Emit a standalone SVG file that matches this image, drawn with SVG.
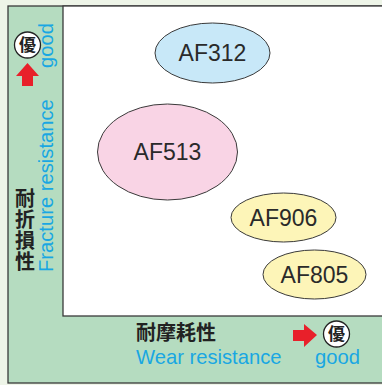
<svg xmlns="http://www.w3.org/2000/svg" width="382" height="385" viewBox="0 0 382 385">
<style>
.ell{stroke:#3a3a3a;stroke-width:1}
.lbl{font-family:"Liberation Sans",Arial,sans-serif;font-size:23px;fill:#2a2a2a;text-anchor:middle}
.en{font-family:"Liberation Sans",Arial,sans-serif;font-size:20.2px;fill:#19a7e2}
.jp{font-family:"Noto Sans CJK JP","Noto Sans CJK SC",sans-serif;font-size:20px;font-weight:bold;fill:#222}
.yu{font-family:"Noto Sans CJK JP","Noto Sans CJK SC",sans-serif;font-size:17px;font-weight:bold;fill:#222;text-anchor:middle}
.arr{fill:#e8202a}
</style>
<rect x="0" y="0" width="382" height="385" fill="#eef5e8"/>
<g id="frame">
<rect x="8" y="6" width="380" height="377" fill="#b5dcc0" stroke="#3a3a3a" stroke-width="1.3"/>
<rect x="63" y="6" width="325" height="310" fill="#ffffff" stroke="#3a3a3a" stroke-width="1.3"/>
</g>
<g id="af312">
<ellipse class="ell" cx="212.5" cy="53" rx="57.5" ry="30" fill="#c8e8f8"/>
<text class="lbl" x="212.5" y="61">AF312</text>
</g>
<g id="af513">
<ellipse class="ell" cx="167.5" cy="152" rx="70" ry="48" fill="#f9d4e5"/>
<text class="lbl" x="167.5" y="160">AF513</text>
</g>
<g id="af906">
<ellipse class="ell" cx="283.5" cy="217.5" rx="52.5" ry="24.5" fill="#fdf5b8"/>
<text class="lbl" x="283.5" y="225.5">AF906</text>
</g>
<g id="af805">
<ellipse class="ell" cx="314.5" cy="274.5" rx="51.5" ry="24.5" fill="#fdf5b8"/>
<text class="lbl" x="314.5" y="282.5">AF805</text>
</g>
<g id="y-axis">
<circle cx="27.5" cy="45" r="13" fill="#ffffff" stroke="#222" stroke-width="1.3"/>
<text class="yu" x="27.5" y="51">優</text>
<polygon class="arr" points="27.5,63 39,76 33,76 33,86 22,86 22,76 16,76"/>
<text class="en" transform="translate(53,68) rotate(-90)">good</text>
<text class="en" transform="translate(53,272) rotate(-90)">Fracture resistance</text>
<text class="jp" x="25" y="188" writing-mode="vertical-rl" letter-spacing="1">耐折損性</text>
</g>
<g id="x-axis">
<text class="jp" x="136" y="340" font-size="21">耐摩耗性</text>
<text class="en" x="136" y="364">Wear resistance</text>
<polygon class="arr" points="317,335 304,324 304,330 293,330 293,341 304,341 304,347"/>
<circle cx="336.5" cy="334" r="13" fill="#ffffff" stroke="#222" stroke-width="1.3"/>
<text class="yu" x="336.5" y="340">優</text>
<text class="en" x="315" y="364">good</text>
</g>
</svg>
